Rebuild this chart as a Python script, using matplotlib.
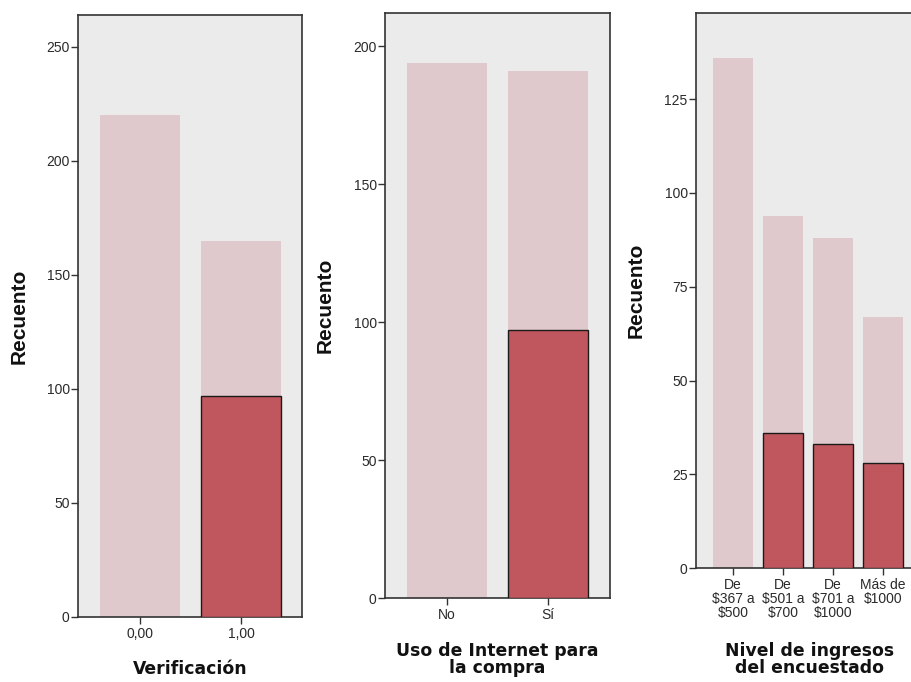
import matplotlib
matplotlib.use("Agg")
import matplotlib.pyplot as plt
import numpy as np

plt.rcParams['font.family'] = ['Liberation Sans', 'DejaVu Sans']

# Data
verif_cats = ['0,00', '1,00']
verif_total = [220, 165]
verif_sel = [0, 97]

internet_cats = ['No', 'Sí']
internet_total = [194, 191]
internet_sel = [0, 97]

ingreso_cats = ['De\n\\$367 a\n\\$500', 'De\n\\$501 a\n\\$700', 'De\n\\$701 a\n\\$1000', 'Más de\n\\$1000']
ingreso_total = [136, 94, 88, 67]
ingreso_sel = [0, 36, 33, 28]

LIGHT = '#E0C9CC'
DARK = '#C1575E'
BG = '#EBEBEB'
SPINE = '#333333'

W, H = 912, 682
fig = plt.figure(figsize=(W / 100, H / 100), dpi=100)

def px_axes(left, right, top, bottom):
    return fig.add_axes([left / W, (H - bottom) / H, (right - left) / W, (bottom - top) / H])

panels = [
    dict(box=(78, 302, 15, 617), cats=verif_cats, total=verif_total, sel=verif_sel,
         ylim=264, yticks=np.arange(0, 251, 50), xlim=(-0.614, 1.604),
         xlabel='Verificación', ylab_x=-0.222, xlab_y=-0.071, right=True),
    dict(box=(385, 610, 13, 598), cats=internet_cats, total=internet_total, sel=internet_sel,
         ylim=212, yticks=np.arange(0, 201, 50), xlim=(-0.614, 1.614),
         xlabel='Uso de Internet para\nla compra', ylab_x=-0.222, xlab_y=-0.075, right=True),
    dict(box=(696, 924, 13, 568), cats=ingreso_cats, total=ingreso_total, sel=ingreso_sel,
         ylim=148, yticks=np.arange(0, 126, 25), xlim=(-0.74, 3.82),
         xlabel='Nivel de ingresos\ndel encuestado', ylab_x=-0.222, xlab_y=-0.133, right=False),
]

for p in panels:
    ax = px_axes(*p['box'])
    ax.set_facecolor(BG)
    x = np.arange(len(p['cats']))
    width = 0.8
    ax.bar(x, p['total'], width=width, color=LIGHT, edgecolor='none', zorder=2)
    sel_idx = [i for i, v in enumerate(p['sel']) if v > 0]
    ax.bar([x[i] for i in sel_idx], [p['sel'][i] for i in sel_idx], width=width,
           color=DARK, edgecolor='#1a1a1a', linewidth=1.0, zorder=3)
    ax.set_xlim(*p['xlim'])
    ax.set_ylim(0, p['ylim'])
    ax.set_yticks(p['yticks'])
    ax.set_xticks(x)
    ax.set_xticklabels(p['cats'], fontsize=10, color='#2a2a2a', linespacing=1.0)
    ax.tick_params(axis='y', labelsize=10, labelcolor='#2a2a2a', length=5,
                   width=1.0, color=SPINE, direction='out', pad=1)
    ax.tick_params(axis='x', length=5, width=1.0, color=SPINE, direction='out', pad=2)
    for s in ax.spines.values():
        s.set_color(SPINE)
        s.set_linewidth(1.2)
    ax.spines['right'].set_visible(p['right'])
    ax.set_ylabel('Recuento', fontsize=15, fontweight='bold', color='#111111')
    ax.yaxis.set_label_coords(p['ylab_x'], 0.5)
    ax.set_xlabel(p['xlabel'], fontsize=12.4, fontweight='bold', color='#111111',
                  linespacing=0.95, family=['DejaVu Sans'])
    ax.xaxis.set_label_coords(0.5, p['xlab_y'])

fig.savefig('out.png', dpi=100, facecolor='white')
